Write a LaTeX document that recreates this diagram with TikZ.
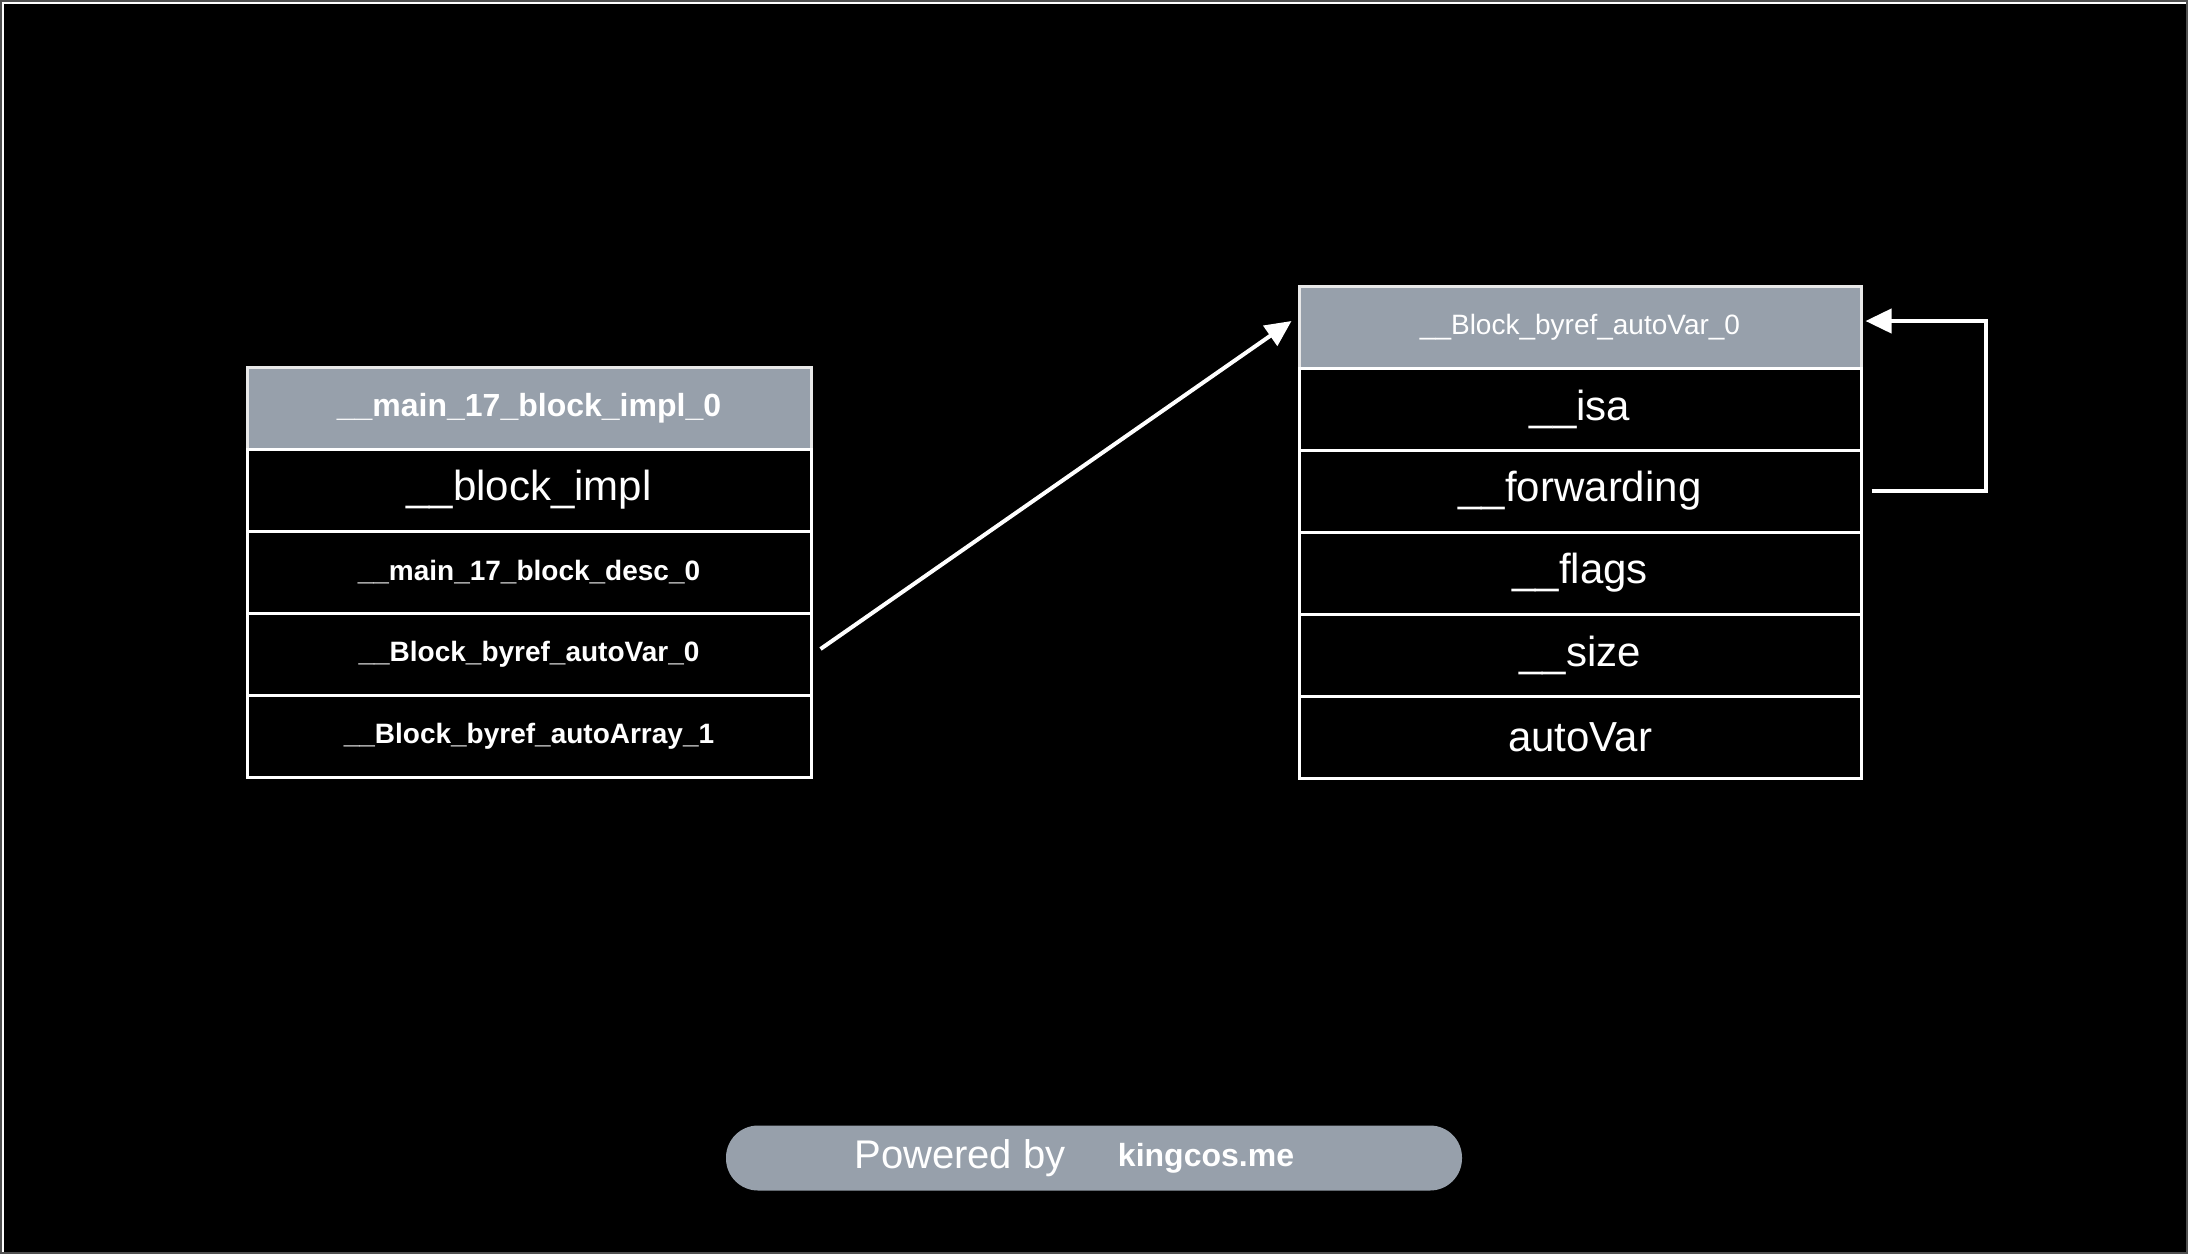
\documentclass[tikz,border=0pt]{standalone}
\usepackage{fontspec}
\setmainfont{Liberation Sans}
\usetikzlibrary{arrows.meta}
\definecolor{hdr}{RGB}{151,160,171}
\definecolor{hdrline}{RGB}{232,232,232}
\definecolor{framegray}{RGB}{80,80,80}
\begin{document}
\begin{tikzpicture}[x=1pt,y=-1pt,
  cell/.style={draw=white, line width=3pt, fill=black, text=white, minimum height=82pt, inner sep=0pt, anchor=center},
  lcell/.style={cell, minimum width=564pt},
  rcell/.style={cell, minimum width=562pt},
  hcell/.style={fill=hdr, draw=hdrline},
  bigtxt/.style={font=\fontsize{42}{50}\selectfont},
  smalltxt/.style={font=\fontsize{28}{34}\selectfont},
  boldsmall/.style={font=\fontsize{28}{34}\selectfont\bfseries},
  boldhdr/.style={font=\fontsize{32}{38}\selectfont\bfseries},
  arr/.style={draw=white, line width=4pt, -{Triangle[length=26pt,width=24pt]}},
  pill/.style={fill=hdr, rounded corners=32pt, minimum width=736pt, minimum height=65pt, inner sep=0pt}]
\useasboundingbox (0,0) rectangle (2188,1254);
\fill[framegray] (0,0) rectangle (2188,1254);
\fill[black] (2,2) rectangle (2186,1252);
\draw[white, line width=2pt] (3,1252) -- (3,3) -- (2186,3);

% left table
\node[lcell, hcell, boldhdr] (lh) at (529,408) {\_\_main\_17\_block\_impl\_0};
\node[lcell, bigtxt] (lr1) at (529,490) {\_\_block\_impl};
\node[lcell, boldsmall] (lr2) at (529,572) {\_\_main\_17\_block\_desc\_0};
\node[lcell, boldsmall] (lr3) at (529,654) {\_\_Block\_byref\_autoVar\_0};
\node[lcell, boldsmall] (lr4) at (529,736) {\_\_Block\_byref\_autoArray\_1};

% right table
\node[rcell, hcell, smalltxt] (rh) at (1580,327) {\_\_Block\_byref\_autoVar\_0};
\node[rcell, bigtxt] (risa) at (1580,409) {\_\_isa};
\node[rcell, bigtxt] (rfw) at (1580,491) {\_\_forwarding};
\node[rcell, bigtxt] (rfl) at (1580,573) {\_\_flags};
\node[rcell, bigtxt] (rsz) at (1580,655) {\_\_size};
\node[rcell, bigtxt] (rav) at (1580,737) {autoVar};

% connectors
\draw[arr] ([xshift=8pt,yshift=5pt]lr3.east) -- ([xshift=-6pt,yshift=6pt]rh.west);
\draw[arr] ([xshift=9pt]rfw.east) -- ++(114,0) |- ([xshift=3pt,yshift=6pt]rh.east);

% footer
\node[pill] (foot) at (1094,1158) {};
\node[text=white, font=\fontsize{40}{48}\selectfont, inner sep=0pt] (pw) at (960,1158) {Powered by};
\node[text=white, font=\fontsize{32}{38}\selectfont\bfseries, inner sep=0pt] (kc) at (1206,1158) {kingcos.me};
\end{tikzpicture}
\end{document}
